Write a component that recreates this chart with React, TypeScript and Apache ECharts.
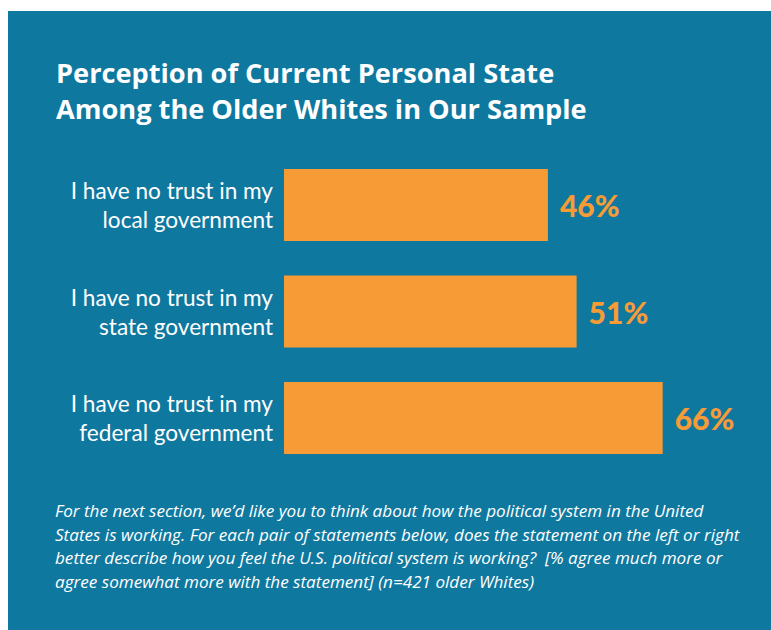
import React, { useEffect, useRef } from "react";
import * as echarts from "echarts";

const titleLines = [
  "Perception of Current Personal State",
  "Among the Older Whites in Our Sample",
];
const categories = [
  "I have no trust in my\nlocal government",
  "I have no trust in my\nstate government",
  "I have no trust in my\nfederal government",
];
const values = [46, 51, 66];
const footnoteLines = [
  "For the next section, we\u2019d like you to think about how the political system in the United",
  "States is working. For each pair of statements below, does the statement on the left or right",
  "better describe how you feel the U.S. political system is working?  [% agree much more or",
  "agree somewhat more with the statement] (n=421 older Whites)",
];

const BLUE = "#0f789f";
const ORANGE = "#f79b37";
const FONT = "Lato, 'Open Sans', sans-serif";
const FONT2 = "'Open Sans', Lato, sans-serif";

export default function App() {
  const ref = useRef<HTMLDivElement>(null);
  useEffect(() => {
    if (!ref.current) return;
    const chart = echarts.init(ref.current, undefined, { renderer: "svg" });
    chart.setOption({
      animation: false,
      backgroundColor: "#ffffff",
      graphic: [
        {
          type: "rect",
          z: -10,
          shape: { x: 8, y: 11, width: 763, height: 619 },
          style: { fill: BLUE },
          silent: true,
        },
        {
          type: "text",
          left: 55,
          top: 498.5,
          style: {
            text: footnoteLines.join("\n"),
            fill: "#ffffff",
            font: `italic 17.1px ${FONT2}`,
            lineHeight: 23.7,
          },
        },
      ],
      title: {
        text: titleLines.join("\n"),
        left: 56,
        top: 55,
        padding: 0,
        textStyle: {
          color: "#ffffff",
          fontFamily: FONT2,
          fontSize: 27.2,
          fontWeight: "bold",
          lineHeight: 35.5,
        },
      },
      grid: { left: 284, width: 459, top: 151.75, height: 319.5 },
      xAxis: {
        type: "value",
        min: 0,
        max: 80,
        show: false,
      },
      yAxis: {
        type: "category",
        data: categories,
        inverse: true,
        axisLine: { show: false },
        axisTick: { show: false },
        splitLine: { show: false },
        axisLabel: {
          color: "#ffffff",
          fontFamily: FONT,
          fontSize: 22.6,
          lineHeight: 29,
          margin: 11,
          align: "right",
        },
      },
      series: [
        {
          type: "bar",
          data: values,
          barWidth: 72,
          itemStyle: { color: ORANGE },
          label: {
            show: true,
            position: "right",
            distance: 12,
            formatter: "{c}%",
            color: ORANGE,
            fontFamily: FONT,
            fontSize: 30,
            fontWeight: 900,
          },
        },
      ],
    });
    return () => chart.dispose();
  }, []);
  return (
    <div
      ref={ref}
      style={{ position: "fixed", left: 0, top: 0, width: 771, height: 630 }}
    />
  );
}
